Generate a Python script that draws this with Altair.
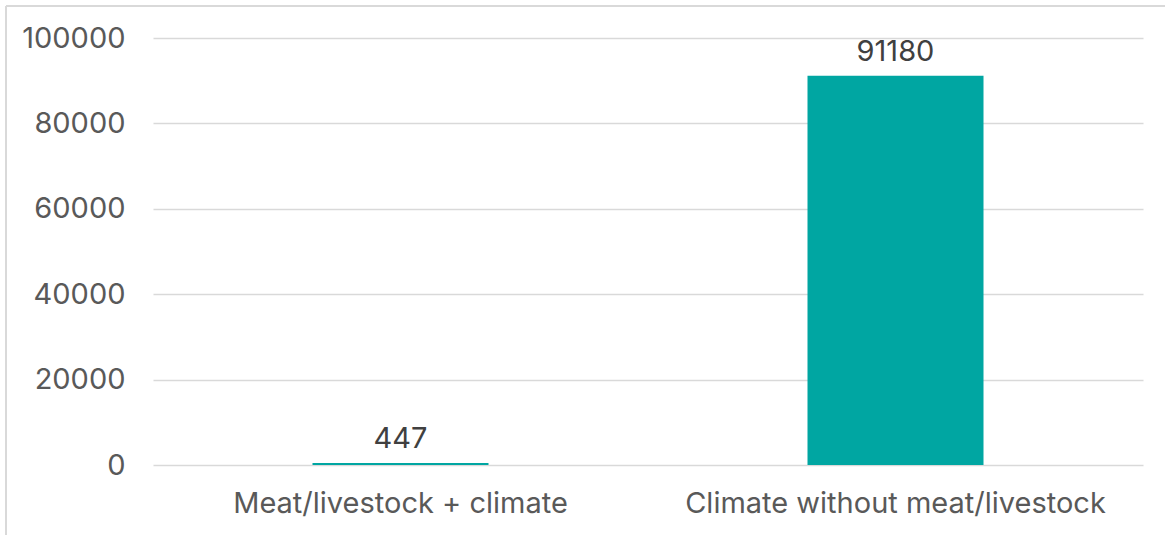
import altair as alt
import pandas as pd

# Bar categories and their values
categories = ["Meat/livestock + climate", "Climate without meat/livestock"]
values = [447, 91180]
y_ticks = [0, 20000, 40000, 60000, 80000, 100000]

df = pd.DataFrame({"category": categories, "value": values})

FONT = "Inter"
TEAL = "#00A6A2"

x_enc = alt.X(
    "category:N",
    sort=categories,
    title=None,
    scale=alt.Scale(paddingInner=0, paddingOuter=0),
    axis=alt.Axis(
        labelAngle=0,
        labelFontSize=29,
        labelColor="#595959",
        labelFont=FONT,
        labelPadding=24,
        labelBaseline="top",
        labelLimit=0,
        ticks=False,
        domain=False,
        grid=False,
    ),
)
y_enc = alt.Y(
    "value:Q",
    title=None,
    scale=alt.Scale(domain=[0, 100000], nice=False),
    axis=alt.Axis(
        values=y_ticks,
        format="d",
        labelFontSize=29,
        labelColor="#595959",
        labelFont=FONT,
        labelPadding=28,
        ticks=False,
        domain=False,
        gridColor="#D9D9D9",
        gridWidth=1.5,
    ),
)

base = alt.Chart(df)

bars = base.mark_bar(color=TEAL, size=176).encode(x=x_enc, y=y_enc)

labels = base.mark_text(
    baseline="alphabetic",
    dy=-15,
    fontSize=29,
    font=FONT,
    color="#404040",
).encode(
    x=x_enc,
    y=y_enc,
    text=alt.Text("value:Q", format="d"),
)

# Thin frame along the top and left edges of the figure
frame_top = alt.Chart().mark_rule(color="#D9D9D9", strokeWidth=2).encode(
    x=alt.value(-147), x2=alt.value(1012), y=alt.value(-32)
)
frame_left = alt.Chart().mark_rule(color="#D9D9D9", strokeWidth=2).encode(
    x=alt.value(-147), y=alt.value(-32), y2=alt.value(497)
)

chart = (
    alt.layer(frame_top, frame_left, bars, labels)
    .properties(
        width=990,
        height=427,
        background="white",
        autosize=alt.AutoSizeParams(type="none"),
        padding={"left": 153, "top": 38, "right": 22, "bottom": 70},
    )
    .configure_view(strokeWidth=0)
)

chart.save("out.html", embed_options={"renderer": "svg", "actions": False})
